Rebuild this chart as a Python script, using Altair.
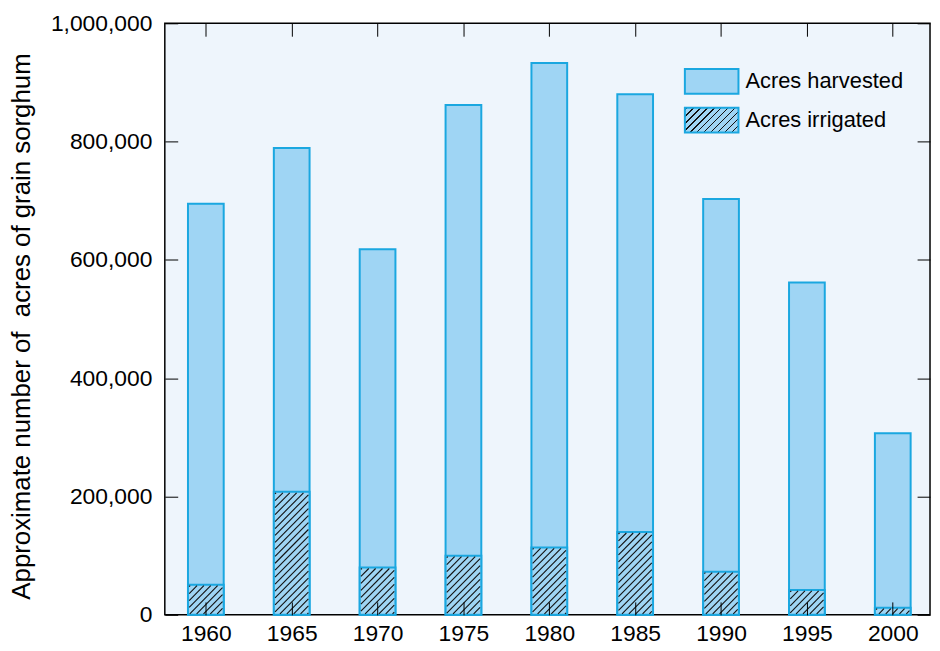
import altair as alt

# ---- data ----
years = [1960, 1965, 1970, 1975, 1980, 1985, 1990, 1995, 2000]
harvested = [695000, 789000, 618000, 862000, 933000, 880000, 703000, 562000, 307000]
irrigated = [51000, 208000, 80000, 100000, 114000, 140000, 73000, 42000, 12000]
y_ticks = [0, 200000, 400000, 600000, 800000, 1000000]
series = ["Acres harvested", "Acres irrigated"]
y_title = "Approximate number of\u00a0 acres of grain sorghum"

# ---- style ----
W, H = 771, 596
YMAX = 1000000
X_DOMAIN = [1957.9, 2001.88]
BAR = 36
FILL = "#9FD5F4"
EDGE = "#1AA7E0"
BG = "#EEF5FC"
INK = "#111111"
FONT = "Liberation Sans"
HATCH_STEP = 7.0   # px between hatch lines (horizontal)


def hatch_gradient(w, h, period=7.0, thick=1.4, phase=2.0):
    """Linear gradient with hard stops that renders '/' hatching in a w x h box (legend swatch)."""
    L = w + h
    stops = [{"offset": 0, "color": FILL}]
    n = 0
    while True:
        c = n * period + phase
        a = (c - thick / 2) / L
        b = (c + thick / 2) / L
        if b >= 1:
            break
        if a > 0:
            stops += [
                {"offset": round(a, 5), "color": FILL},
                {"offset": round(a, 5), "color": INK},
                {"offset": round(b, 5), "color": INK},
                {"offset": round(b, 5), "color": FILL},
            ]
        n += 1
    stops.append({"offset": 1, "color": FILL})
    k = (w + h) / (w * w + h * h)
    return {"gradient": "linear", "x1": 0, "y1": 0, "x2": w * k, "y2": h * k, "stops": stops}


# hatch lines for each irrigated bar, expressed in data units (year, acres)
px_per_year = W / (X_DOMAIN[1] - X_DOMAIN[0])
acres_per_px = YMAX / H


def hatch_segments(year, value, inset=1.0, phase=3.0):
    h = value / acres_per_px
    x0, x1, y0, y1 = inset, BAR - inset, inset, h - inset
    segs = []
    if y1 <= y0:
        return segs
    c = phase
    while c < x1 + y1:
        xs = max(x0, c - y1)
        xe = min(x1, c - y0)
        if xe > xs:
            ys, ye = c - xs, c - xe
            left = year - (BAR / 2) / px_per_year
            segs.append({
                "x": left + xs / px_per_year, "x2": left + xe / px_per_year,
                "y": (h - ys) * acres_per_px, "y2": (h - ye) * acres_per_px,
            })
        c += HATCH_STEP
    return segs


harv_rows = [{"year": y, "acres": v, "series": series[0]} for y, v in zip(years, harvested)]
irr_rows = [{"year": y, "acres": v, "series": series[1]} for y, v in zip(years, irrigated)]
hatch_rows = [s for y, v in zip(years, irrigated) for s in hatch_segments(y, v)]

x_scale = alt.Scale(domain=X_DOMAIN, nice=False, zero=False)
y_scale = alt.Scale(domain=[0, YMAX], nice=False)

common_axis = dict(
    offset=-13, tickSize=13, tickColor="black", tickWidth=1, domain=False, grid=False,
    zindex=1, labelFont=FONT, labelFontSize=23, labelColor="black",
    labelFlush=False, labelOverlap=False, labelBound=False,
)

harv = alt.Chart(alt.Data(values=harv_rows)).mark_bar(
    size=BAR, fill=FILL, stroke=EDGE, strokeWidth=2
).encode(
    x=alt.X("year:Q", scale=x_scale,
            axis=alt.Axis(orient="bottom", values=years, format="d", title=None,
                          labelPadding=8, **common_axis)),
    y=alt.Y("acres:Q", scale=y_scale, stack=None,
            axis=alt.Axis(orient="left", values=y_ticks, format=",d", title=y_title,
                          labelPadding=13, titleFont=FONT, titleFontSize=26,
                          titleFontWeight="normal", titleColor="black", titlePadding=16,
                          titleY=305, **common_axis)),
)

irr = alt.Chart(alt.Data(values=irr_rows)).mark_bar(
    size=BAR, fill=FILL, stroke=EDGE, strokeWidth=2
).encode(
    x=alt.X("year:Q", scale=x_scale,
            axis=alt.Axis(orient="top", values=years, labels=False, title=None, **common_axis)),
    y=alt.Y("acres:Q", scale=y_scale, stack=None,
            axis=alt.Axis(orient="right", values=y_ticks, labels=False, title=None, **common_axis)),
)

hatch_lines = alt.Chart(alt.Data(values=hatch_rows)).mark_rule(
    color=INK, strokeWidth=1.1
).encode(
    x=alt.X("x:Q", scale=x_scale, axis=None),
    x2="x2:Q",
    y=alt.Y("y:Q", scale=y_scale, axis=None),
    y2="y2:Q",
)

leg_h_rect = alt.Chart(alt.Data(values=[{"label": series[0]}])).mark_rect(
    fill=FILL, stroke=EDGE, strokeWidth=2
).encode(x=alt.value(524), x2=alt.value(578), y=alt.value(46), y2=alt.value(71))

leg_i_rect = alt.Chart(alt.Data(values=[{"label": series[1]}])).mark_rect(
    fill=hatch_gradient(54, 25), stroke=EDGE, strokeWidth=2
).encode(x=alt.value(524), x2=alt.value(578), y=alt.value(85), y2=alt.value(110))

leg_h_text = alt.Chart(alt.Data(values=[{"label": series[0]}])).mark_text(
    align="left", baseline="middle", font=FONT, fontSize=22, color="black"
).encode(x=alt.value(585), y=alt.value(58.5), text="label:N")

leg_i_text = alt.Chart(alt.Data(values=[{"label": series[1]}])).mark_text(
    align="left", baseline="middle", font=FONT, fontSize=22, color="black"
).encode(x=alt.value(585), y=alt.value(97.5), text="label:N")

chart = alt.layer(
    harv, irr, hatch_lines, leg_h_rect, leg_i_rect, leg_h_text, leg_i_text
).resolve_axis(
    x="independent", y="independent"
).properties(
    width=W, height=H,
    autosize=alt.AutoSizeParams(type="none"),
    padding={"left": 158, "top": 13, "right": 2, "bottom": 30},
    background="white",
).configure_view(
    fill=BG, stroke="black", strokeWidth=1.5
)

chart.save("out.html", embed_options={"renderer": "svg", "actions": False})
